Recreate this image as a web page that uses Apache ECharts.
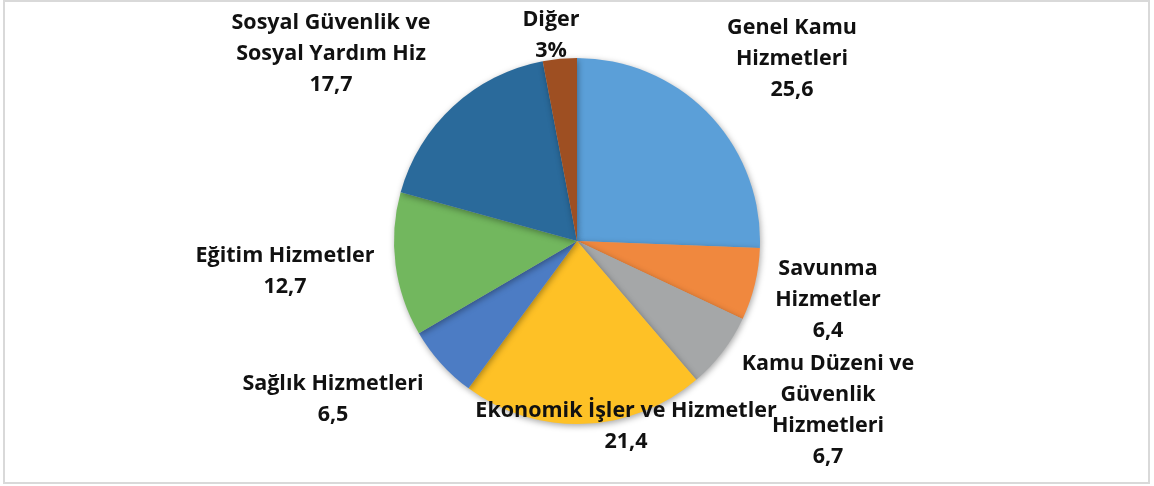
<!DOCTYPE html>
<html><head><meta charset="utf-8">
<script src="https://cdn.jsdelivr.net/npm/echarts@6/dist/echarts.min.js"></script>
<style>html,body{margin:0;padding:0;background:#fff}#c{width:1154px;height:486px}</style>
</head><body><div id="c"></div>
<script>
const categories = ['Genel Kamu Hizmetleri','Savunma Hizmetler','Kamu Düzeni ve Güvenlik Hizmetleri','Ekonomik İşler ve Hizmetler','Sağlık Hizmetleri','Eğitim Hizmetler','Sosyal Güvenlik ve Sosyal Yardım Hiz','Diğer'];
const values = [25.6, 6.4, 6.7, 21.4, 6.5, 12.7, 17.7, 3];
const labelNames = ['Genel Kamu\nHizmetleri','Savunma\nHizmetler','Kamu Düzeni ve\nGüvenlik\nHizmetleri','Ekonomik İşler ve Hizmetler','Sağlık Hizmetleri','Eğitim Hizmetler','Sosyal Güvenlik ve\nSosyal Yardım Hiz','Diğer'];
const valueLabels = ['25,6','6,4','6,7','21,4','6,5','12,7','17,7','3%'];
const colors = ['#5B9FD8','#F0883E','#A5A7A8','#FEC126','#4C7CC4','#72B75E','#2A6A9B','#9E4F22'];
const labelPos = [[792,59],[828,300],[828,410],[626,426],[333,399],[285,271],[331,54],[551,35]];

const chart = echarts.init(document.getElementById('c'));
chart.setOption({
  animation:false,
  graphic:[{type:'rect',shape:{x:4,y:1,width:1145,height:482},style:{fill:null,stroke:'#d9d9d9',lineWidth:2},z:-1}],
  series:[{
    type:'pie',
    center:[577,241],
    radius:[0,183],
    startAngle:90,
    clockwise:true,
    itemStyle:{borderColor:'#fff',borderWidth:0,shadowBlur:6,shadowColor:'rgba(0,0,0,0.35)',shadowOffsetX:1,shadowOffsetY:2},
    emphasis:{disabled:true},
    label:{
      show:true,position:'outside',
      formatter:p=>labelNames[p.dataIndex]+'\n'+valueLabels[p.dataIndex],
      fontFamily:'"Open Sans", sans-serif',fontWeight:'bold',fontSize:21.5,lineHeight:31,color:'#111',align:'center'
    },
    labelLine:{show:false},
    labelLayout:function(params){
      const p = labelPos[params.dataIndex];
      return {x:p[0],y:p[1],align:'center',verticalAlign:'middle',hideOverlap:false,moveOverlap:false};
    },
    data:categories.map((n,i)=>({name:n,value:values[i],itemStyle:{color:colors[i]}}))
  }]
});
</script></body></html>
